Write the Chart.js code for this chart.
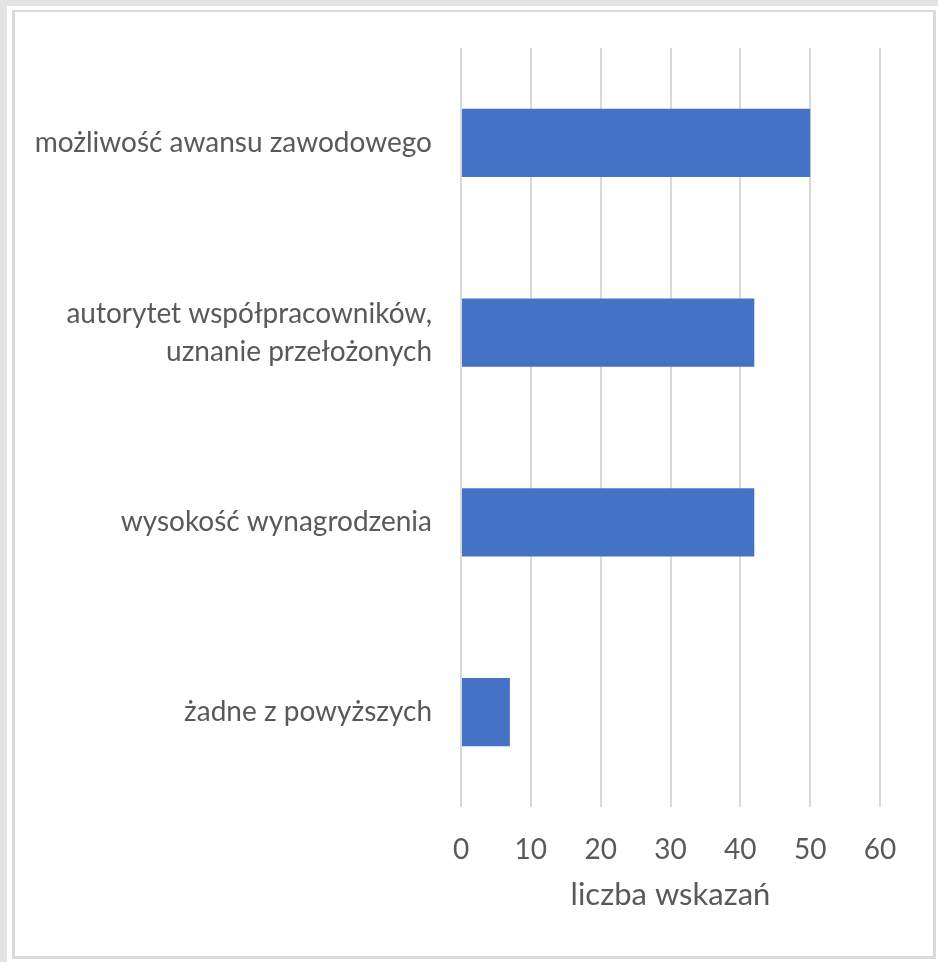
<!DOCTYPE html>
<html lang="pl">
<head>
  <meta charset="UTF-8">
  <title>Liczba wskazań</title>
  <script src="https://cdn.jsdelivr.net/npm/chart.js"></script>
  <style>
    html, body {
      margin: 0;
      padding: 0;
      width: 938px;
      height: 962px;
      overflow: hidden;
      background: #e3e3e3;
    }
    .sheet {
      position: absolute;
      left: 7px;
      top: 6px;
      right: 0;
      bottom: 0;
      background: #fff;
    }
    .frame {
      position: absolute;
      left: 12px;
      top: 10px;
      width: 918px;
      height: 944px;
      border: 3px solid #dadada;
      border-top-width: 2px;
    }
    .wrap {
      position: absolute;
      left: 0;
      top: 0;
      width: 938px;
      height: 962px;
    }
  </style>
</head>
<body>
  <div class="sheet"></div>
  <div class="frame"></div>
  <div class="wrap"><canvas id="chart"></canvas></div>

  <script>
    const categories = [
      'możliwość awansu zawodowego',
      ['autorytet współpracowników,', 'uznanie przełożonych'],
      'wysokość wynagrodzenia',
      'żadne z powyższych'
    ];
    const counts = [50, 42, 42, 7];
    const xTicks = [0, 10, 20, 30, 40, 50, 60];
    const axisTitle = 'liczba wskazań';

    const textColor = '#595959';
    const family = 'Lato, "Open Sans", sans-serif';

    new Chart(document.getElementById('chart'), {
      type: 'bar',
      data: {
        labels: categories,
        datasets: [{
          data: counts,
          backgroundColor: '#4472c4',
          barPercentage: 0.36,
          categoryPercentage: 1
        }]
      },
      options: {
        indexAxis: 'y',
        responsive: true,
        maintainAspectRatio: false,
        animation: false,
        layout: { padding: { top: 48, right: 58, bottom: 0, left: 0 } },
        plugins: {
          legend: { display: false },
          tooltip: { enabled: false }
        },
        scales: {
          x: {
            min: xTicks[0],
            max: xTicks[xTicks.length - 1],
            afterBuildTicks: scale => {
              scale.ticks = xTicks.map(v => ({ value: v }));
            },
            afterFit: scale => { scale.height = 155; },
            grid: { color: '#d9d9d9', lineWidth: 2, drawTicks: false },
            border: { display: false },
            ticks: { color: textColor, font: { family: family, size: 28 }, padding: 26 },
            title: {
              display: true,
              text: axisTitle,
              color: textColor,
              font: { family: family, size: 31 },
              padding: { top: 0, bottom: 48 }
            }
          },
          y: {
            afterFit: scale => { scale.width = 461; },
            grid: { display: false, drawTicks: false },
            border: { display: false },
            ticks: {
              color: textColor,
              font: { family: family, size: 28, lineHeight: 1.35 },
              padding: 29
            }
          }
        }
      }
    });
  </script>
</body>
</html>
